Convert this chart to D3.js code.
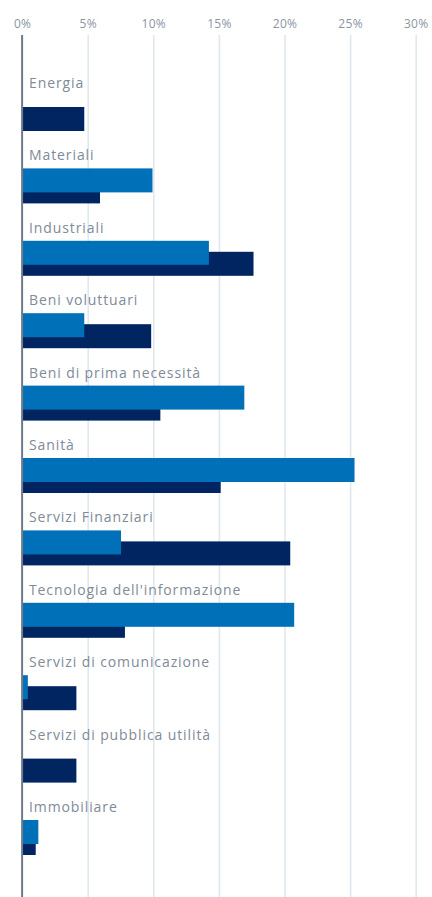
<!DOCTYPE html>
<html>
<head>
<meta charset="utf-8">
<script src="https://cdn.jsdelivr.net/npm/d3@7"></script>
<style>
  body { margin: 0; background: #fff; }
  svg { display: block; font-family: "Open Sans", "Noto Sans", sans-serif; }
</style>
</head>
<body>
<svg id="chart" width="432" height="897"></svg>
<script>
// settori e pesi (%), portafoglio vs benchmark
var sectors = ["Energia", "Materiali", "Industriali", "Beni voluttuari", "Beni di prima necessità",
               "Sanità", "Servizi Finanziari", "Tecnologia dell'informazione",
               "Servizi di comunicazione", "Servizi di pubblica utilità", "Immobiliare"];
var fundValues = [0, 9.9, 14.2, 4.7, 16.9, 25.3, 7.5, 20.7, 0.4, 0, 1.2];
var benchValues = [4.7, 5.9, 17.6, 9.8, 10.5, 15.1, 20.4, 7.8, 4.1, 4.1, 1.0];
var tickValues = [0, 5, 10, 15, 20, 25, 30];

var width = 432,
    height = 897,
    barH = 24,
    offset = 11;

var fundColor = "#0070b9",
    benchColor = "#002561";

var x = d3.scaleLinear()
    .domain([0, 30])
    .range([22.6, 416.2]);

var y = d3.scaleBand()
    .domain(sectors)
    .range([60, 60 + 72.4 * sectors.length])
    .paddingInner(0)
    .paddingOuter(0);

var svg = d3.select("#chart");

// griglia verticale
svg.append("g")
    .selectAll("line")
    .data(tickValues.slice(1))
    .enter().append("line")
    .attr("x1", function(d) { return x(d); })
    .attr("x2", function(d) { return x(d); })
    .attr("y1", 35)
    .attr("y2", height)
    .attr("stroke", "#e0e8ef")
    .attr("stroke-width", 1.6);

// etichette asse
svg.append("g")
    .selectAll("text")
    .data(tickValues)
    .enter().append("text")
    .attr("x", function(d) { return x(d); })
    .attr("y", 28)
    .attr("text-anchor", "middle")
    .attr("font-size", 12)
    .attr("letter-spacing", 0.3)
    .attr("fill", "#8a94a2")
    .text(function(d) { return d + "%"; });

var g = svg.selectAll(".sector")
    .data(sectors)
    .enter().append("g")
    .attr("class", "sector")
    .attr("transform", function(d) { return "translate(0," + y(d) + ")"; });

g.append("text")
    .attr("x", 29)
    .attr("y", 28)
    .attr("font-size", 14)
    .attr("letter-spacing", 0.9)
    .attr("fill", "#808a98")
    .text(function(d) { return d; });

// benchmark sotto, portafoglio sopra
g.append("rect")
    .attr("x", x(0))
    .attr("y", 36 + offset)
    .attr("height", barH)
    .attr("width", function(d, i) { return x(benchValues[i]) - x(0); })
    .attr("fill", benchColor);

g.append("rect")
    .attr("x", x(0))
    .attr("y", 36)
    .attr("height", barH)
    .attr("width", function(d, i) { return x(fundValues[i]) - x(0); })
    .attr("fill", fundColor);

// linea dello zero
svg.append("line")
    .attr("x1", x(0) - 0.5)
    .attr("x2", x(0) - 0.5)
    .attr("y1", 35)
    .attr("y2", height)
    .attr("stroke", "#6e7989")
    .attr("stroke-width", 2);
</script>
</body>
</html>
